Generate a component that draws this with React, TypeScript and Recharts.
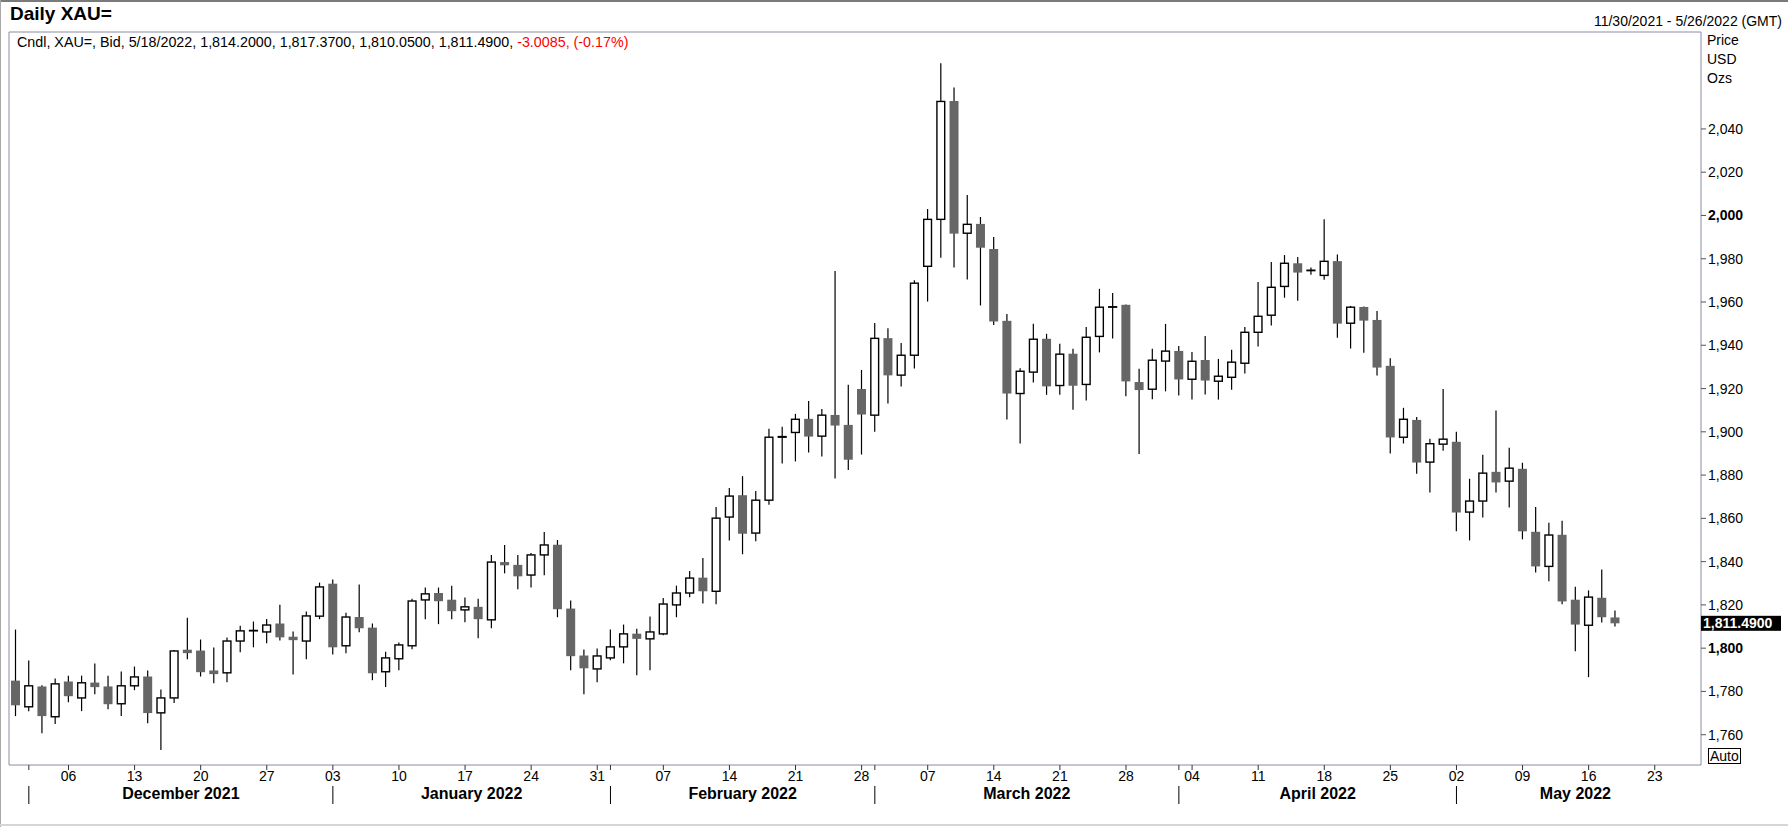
import { ComposedChart, Bar, XAxis, YAxis, ReferenceArea, ReferenceLine } from 'recharts';

// daily XAU= bid candles, 11/30/2021 - 5/18/2022
const dates = [
  '2021-11-30',
  '2021-12-01', '2021-12-02', '2021-12-03', '2021-12-06', '2021-12-07', '2021-12-08', '2021-12-09', '2021-12-10',
  '2021-12-13', '2021-12-14', '2021-12-15', '2021-12-16', '2021-12-17', '2021-12-20', '2021-12-21', '2021-12-22',
  '2021-12-23', '2021-12-24', '2021-12-27', '2021-12-28', '2021-12-29', '2021-12-30', '2021-12-31',
  '2022-01-03', '2022-01-04', '2022-01-05', '2022-01-06', '2022-01-07', '2022-01-10', '2022-01-11', '2022-01-12',
  '2022-01-13', '2022-01-14', '2022-01-17', '2022-01-18', '2022-01-19', '2022-01-20', '2022-01-21', '2022-01-24',
  '2022-01-25', '2022-01-26', '2022-01-27', '2022-01-28', '2022-01-31',
  '2022-02-01', '2022-02-02', '2022-02-03', '2022-02-04', '2022-02-07', '2022-02-08', '2022-02-09', '2022-02-10',
  '2022-02-11', '2022-02-14', '2022-02-15', '2022-02-16', '2022-02-17', '2022-02-18', '2022-02-21', '2022-02-22',
  '2022-02-23', '2022-02-24', '2022-02-25', '2022-02-28',
  '2022-03-01', '2022-03-02', '2022-03-03', '2022-03-04', '2022-03-07', '2022-03-08', '2022-03-09', '2022-03-10',
  '2022-03-11', '2022-03-14', '2022-03-15', '2022-03-16', '2022-03-17', '2022-03-18', '2022-03-21', '2022-03-22',
  '2022-03-23', '2022-03-24', '2022-03-25', '2022-03-28', '2022-03-29', '2022-03-30', '2022-03-31',
  '2022-04-01', '2022-04-04', '2022-04-05', '2022-04-06', '2022-04-07', '2022-04-08', '2022-04-11', '2022-04-12',
  '2022-04-13', '2022-04-14', '2022-04-15', '2022-04-18', '2022-04-19', '2022-04-20', '2022-04-21', '2022-04-22',
  '2022-04-25', '2022-04-26', '2022-04-27', '2022-04-28', '2022-04-29',
  '2022-05-02', '2022-05-03', '2022-05-04', '2022-05-05', '2022-05-06', '2022-05-09', '2022-05-10', '2022-05-11',
  '2022-05-12', '2022-05-13', '2022-05-16', '2022-05-17', '2022-05-18',
];

// empty slots up to the end of the date range
const futureDates = ['2022-05-19', '2022-05-20', '2022-05-23', '2022-05-24', '2022-05-25', '2022-05-26'];

const opens = [
  1785.0,
  1772.9, 1782.3, 1768.3, 1784.6, 1777.0, 1784.1, 1782.3, 1774.3, 1782.6, 1786.9, 1770.1, 1777.0, 1799.3, 1798.9, 1789.7, 1788.6,
  1803.3, 1808.0, 1807.5, 1811.4, 1805.3, 1803.3, 1814.8,
  1829.8, 1801.1, 1814.4, 1809.5, 1789.1, 1795.1, 1801.1, 1822.3, 1825.5, 1822.4, 1817.7, 1819.1, 1813.1, 1839.8, 1838.5, 1833.8,
  1843.1, 1847.8, 1818.3, 1796.6, 1790.4,
  1795.5, 1800.6, 1806.7, 1804.3, 1806.6, 1820.0, 1825.5, 1832.6, 1826.3, 1860.6, 1870.7, 1853.2, 1868.4, 1897.5, 1899.7, 1906.0,
  1898.0, 1907.8, 1903.2, 1919.8,
  1907.7, 1943.3, 1926.2, 1935.4, 1976.5, 1998.2, 2052.9, 1991.8, 1996.1, 1984.5, 1951.3, 1917.7, 1927.6, 1943.0, 1921.4, 1936.1,
  1921.9, 1944.1, 1957.6, 1958.7, 1923.0, 1919.7, 1932.7,
  1937.4, 1924.3, 1933.2, 1923.4, 1925.2, 1931.7, 1946.0, 1953.9, 1967.2, 1977.9, 1974.5, 1972.3, 1978.9, 1950.2, 1957.7, 1951.7,
  1930.5, 1897.5, 1905.5, 1886.0, 1894.3,
  1895.4, 1862.9, 1868.0, 1881.5, 1877.2, 1882.9, 1853.8, 1837.8, 1852.4, 1822.4, 1810.6, 1823.3, 1814.2,
];

const highs = [
  1808.6,
  1794.3, 1782.9, 1786.0, 1787.3, 1787.3, 1792.9, 1787.3, 1789.2, 1791.5, 1789.7, 1780.9, 1799.2, 1814.1, 1804.0, 1800.3, 1804.9,
  1810.4, 1812.3, 1813.5, 1820.1, 1807.7, 1816.9, 1830.3,
  1831.7, 1816.4, 1829.4, 1811.4, 1798.4, 1802.6, 1822.9, 1828.0, 1828.0, 1828.9, 1823.4, 1822.9, 1843.1, 1847.7, 1843.1, 1844.0,
  1853.7, 1850.0, 1822.0, 1799.4, 1799.8,
  1808.6, 1810.9, 1809.0, 1814.6, 1823.2, 1828.9, 1835.7, 1841.7, 1865.2, 1874.0, 1879.5, 1872.7, 1901.4, 1902.3, 1908.3, 1914.3,
  1910.6, 1974.3, 1921.7, 1928.6,
  1950.3, 1947.9, 1941.0, 1970.1, 2003.0, 2070.4, 2059.2, 2009.5, 1999.3, 1990.1, 1954.5, 1929.4, 1949.9, 1945.3, 1940.7, 1938.4,
  1948.5, 1966.1, 1964.2, 1958.9, 1929.1, 1938.4, 1949.9,
  1939.7, 1936.9, 1944.3, 1933.7, 1937.9, 1948.5, 1969.2, 1978.5, 1981.7, 1980.8, 1975.9, 1998.3, 1982.0, 1958.2, 1957.9, 1955.9,
  1934.0, 1911.1, 1906.9, 1896.8, 1919.8,
  1900.0, 1878.3, 1889.4, 1909.8, 1892.6, 1885.7, 1865.3, 1858.0, 1858.9, 1828.4, 1826.7, 1836.4, 1817.37,
];

const lows = [
  1768.6,
  1770.9, 1760.7, 1764.9, 1775.0, 1770.9, 1778.7, 1771.8, 1768.6, 1780.6, 1765.3, 1752.9, 1774.6, 1794.9, 1786.9, 1783.8, 1784.3,
  1798.1, 1800.4, 1802.3, 1803.5, 1787.8, 1794.9, 1813.4,
  1797.1, 1797.7, 1807.4, 1785.2, 1782.0, 1789.8, 1799.5, 1813.4, 1811.1, 1813.4, 1812.0, 1804.6, 1809.2, 1834.6, 1827.2, 1828.1,
  1833.7, 1814.3, 1789.8, 1778.7, 1784.3,
  1794.4, 1793.0, 1787.5, 1789.8, 1806.0, 1814.3, 1823.5, 1820.7, 1820.3, 1849.8, 1843.4, 1849.4, 1866.3, 1885.4, 1886.3, 1890.4,
  1888.6, 1878.4, 1882.4, 1889.5,
  1900.0, 1913.1, 1921.0, 1929.3, 1960.2, 1980.5, 1975.9, 1970.4, 1958.4, 1949.4, 1905.7, 1894.6, 1922.8, 1917.1, 1917.1, 1910.2,
  1914.5, 1936.7, 1943.1, 1916.4, 1889.7, 1915.1, 1918.7,
  1916.8, 1914.9, 1917.2, 1914.9, 1919.5, 1926.9, 1939.4, 1949.1, 1962.0, 1960.6, 1972.6, 1970.3, 1943.5, 1938.5, 1936.6, 1926.0,
  1890.0, 1894.6, 1880.6, 1872.0, 1891.2,
  1854.0, 1849.8, 1860.4, 1872.0, 1865.0, 1850.3, 1835.0, 1830.9, 1820.3, 1798.6, 1786.6, 1811.9, 1810.05,
];

const closes = [
  1773.6,
  1782.6, 1768.6, 1783.5, 1777.8, 1784.0, 1782.0, 1774.1, 1782.6, 1786.7, 1770.0, 1777.0, 1798.7, 1797.7, 1788.9, 1788.0, 1803.3,
  1808.0, 1808.2, 1810.7, 1805.0, 1803.7, 1814.9, 1828.3,
  1800.4, 1814.4, 1809.2, 1788.4, 1795.5, 1801.5, 1821.8, 1825.1, 1821.7, 1817.1, 1819.1, 1813.4, 1839.8, 1838.3, 1833.2, 1843.1,
  1847.7, 1818.0, 1796.3, 1790.7, 1796.4,
  1800.6, 1806.6, 1804.3, 1807.5, 1820.4, 1825.5, 1832.4, 1826.3, 1860.1, 1870.3, 1852.9, 1868.4, 1897.5, 1897.8, 1905.8, 1897.8,
  1907.7, 1902.9, 1887.1, 1908.0,
  1943.2, 1926.1, 1935.4, 1968.7, 1998.2, 2052.7, 1991.6, 1995.9, 1985.1, 1951.0, 1917.7, 1928.0, 1942.8, 1921.0, 1935.9, 1921.3,
  1943.7, 1957.6, 1957.8, 1923.3, 1919.3, 1933.1, 1937.3,
  1924.2, 1932.6, 1923.7, 1925.7, 1932.2, 1946.0, 1953.4, 1966.8, 1977.9, 1973.6, 1974.7, 1978.8, 1950.0, 1957.6, 1951.4, 1929.7,
  1897.4, 1905.8, 1885.8, 1894.5, 1896.6,
  1862.7, 1868.0, 1880.9, 1876.6, 1883.2, 1854.0, 1837.8, 1852.3, 1821.6, 1810.9, 1823.6, 1814.3, 1811.49,
];

const priceTicks = [1760, 1780, 1800, 1820, 1840, 1860, 1880, 1900, 1920, 1940, 1960, 1980, 2000, 2020, 2040];
const boldPriceTicks = [1800, 2000];
const monthLabels = ['December 2021', 'January 2022', 'February 2022', 'March 2022', 'April 2022', 'May 2022'];
const changeText = '-3.0085, (-0.17%)';
const priceDomain = [1746, 2084.8];

const FONT = '"Liberation Sans", Arial, sans-serif';

const allDates = [...dates, ...futureDates];
const lastIdx = allDates.length - 1;

const candles = dates.map((d, i) => ({
  i,
  date: d,
  open: opens[i],
  high: highs[i],
  low: lows[i],
  close: closes[i],
  range: [lows[i], highs[i]],
}));

const mondays = allDates
  .map((d, i) => ({ d, i }))
  .filter(({ d }) => new Date(d + 'T00:00:00Z').getUTCDay() === 1)
  .map(({ i }) => i);
const monthStarts = allDates
  .map((_, i) => i)
  .filter((i) => i > 0 && allDates[i].slice(5, 7) !== allDates[i - 1].slice(5, 7));
const monthMids = monthStarts.map((s, k) => (s + (monthStarts[k + 1] ?? lastIdx)) / 2);
const dateTicks = Array.from(new Set([...mondays, ...monthStarts, ...monthMids])).sort((a, b) => a - b);

const fmt = (v: number, digits: number) => {
  const [a, b] = v.toFixed(digits).split('.');
  const s = a.replace(/\B(?=(\d{3})+(?!\d))/g, ',');
  return b ? `${s}.${b}` : s;
};

const last = candles[candles.length - 1];
const lastDate = new Date(last.date + 'T00:00:00Z');
const infoText = `Cndl, XAU=, Bid, ${lastDate.getUTCMonth() + 1}/${lastDate.getUTCDate()}/${lastDate.getUTCFullYear()}, ${fmt(last.open, 4)}, ${fmt(last.high, 4)}, ${fmt(last.low, 4)}, ${fmt(last.close, 4)}, `;

function Candle(props: any) {
  const { x, y, width, height, payload } = props;
  if (!payload) return null;
  const { open, close, high, low } = payload;
  const top = Math.min(y, y + height);
  const bottom = Math.max(y, y + height);
  const k = (bottom - top) / (high - low);
  const yOf = (v: number) => top + (high - v) * k;
  const cx = x + width / 2;
  const up = close >= open;
  const bTop = yOf(Math.max(open, close));
  const bBot = yOf(Math.min(open, close));
  return (
    <g>
      <line x1={cx} x2={cx} y1={top} y2={bottom} stroke="#000" strokeWidth={1.2} />
      {up ? (
        <rect x={x + 0.6} y={bTop} width={width - 1.2} height={Math.max(bBot - bTop, 0.4)} fill="#fff" stroke="#000" strokeWidth={1.4} />
      ) : (
        <rect x={x} y={bTop} width={width} height={Math.max(bBot - bTop, 1.5)} fill="#666" />
      )}
    </g>
  );
}

function DateTick(props: any) {
  const { x, y, payload } = props;
  const v = payload.value;
  const isMonday = mondays.includes(v);
  const isStart = monthStarts.includes(v);
  const mid = monthMids.indexOf(v);
  return (
    <g>
      {(isMonday || isStart) && <line x1={x} x2={x} y1={y} y2={y + 5} stroke="#333" />}
      {isMonday && (
        <text x={x} y={y + 16} textAnchor="middle" fontSize={14} fontFamily={FONT} fill="#000">
          {allDates[v].slice(8)}
        </text>
      )}
      {isStart && <line x1={x} x2={x} y1={y + 21} y2={y + 39} stroke="#000" />}
      {mid >= 0 && (
        <text x={x} y={y + 34} textAnchor="middle" fontSize={16} fontWeight="bold" fontFamily={FONT} fill="#000">
          {monthLabels[mid]}
        </text>
      )}
    </g>
  );
}

function PriceTick(props: any) {
  const { x, y, payload } = props;
  const bold = boldPriceTicks.includes(payload.value);
  return (
    <text x={x} y={y} dy={5} textAnchor="start" fontSize={14} fontWeight={bold ? 'bold' : 'normal'} fontFamily={FONT} fill="#000">
      {fmt(payload.value, 0)}
    </text>
  );
}

function PriceTag(props: any) {
  const vb = props.viewBox;
  if (!vb) return null;
  const x = vb.x + vb.width;
  return (
    <g>
      <rect x={x} y={vb.y - 7.5} width={80} height={15} fill="#000" />
      <text x={x + 2} y={vb.y + 5} fontSize={14} fontWeight="bold" fontFamily={FONT} fill="#fff">
        {fmt(last.close, 4)}
      </text>
    </g>
  );
}

export default function App() {
  return (
    <div style={{ position: 'absolute', left: 0, top: 0, width: 1788, height: 827, background: '#fff', fontFamily: FONT, color: '#000' }}>
      <div style={{ position: 'absolute', left: 0, top: 0, width: 1788, height: 2, background: '#7a7a7a' }} />
      <div style={{ position: 'absolute', left: 0, top: 0, width: 1, height: 827, background: '#a8a8a8' }} />
      <div style={{ position: 'absolute', left: 0, top: 824, width: 1788, height: 2, background: '#d6d6d6' }} />

      <div style={{ position: 'absolute', left: 10, top: 3, fontSize: 19, lineHeight: '22px', fontWeight: 'bold', whiteSpace: 'nowrap' }}>
        Daily XAU=
      </div>
      <div style={{ position: 'absolute', right: 6, top: 13, fontSize: 14, lineHeight: '16px', whiteSpace: 'nowrap' }}>
        11/30/2021 - 5/26/2022 (GMT)
      </div>

      <div style={{ position: 'absolute', left: 0, top: 0 }}>
        <ComposedChart width={1788} height={827} data={candles} margin={{ top: 32, right: 0, bottom: 12, left: 9 }}>
          <XAxis
            dataKey="i"
            type="number"
            domain={[-0.5, lastIdx + 0.5]}
            ticks={dateTicks}
            interval={0}
            height={50}
            axisLine={false}
            tickLine={false}
            tickSize={0}
            tickMargin={0}
            tick={<DateTick />}
          />
          <YAxis
            orientation="right"
            type="number"
            domain={priceDomain}
            ticks={priceTicks}
            interval={0}
            width={87}
            axisLine={false}
            tickLine={{ stroke: '#555' }}
            tickSize={5}
            tick={<PriceTick />}
          />
          <ReferenceArea
            x1={-0.5}
            x2={lastIdx + 0.5}
            y1={priceDomain[0]}
            y2={priceDomain[1]}
            fill="none"
            stroke="#8c8ca0"
            strokeWidth={1}
            ifOverflow="visible"
          />
          <Bar dataKey="range" barSize={9} shape={Candle} isAnimationActive={false} />
          <ReferenceLine y={last.close} stroke="none" ifOverflow="visible" label={PriceTag} />
        </ComposedChart>
      </div>

      <div style={{ position: 'absolute', left: 17, top: 34, fontSize: 14.3, lineHeight: '16px', whiteSpace: 'nowrap' }}>
        {infoText}
        <span style={{ color: '#f00' }}>{changeText}</span>
      </div>

      <div style={{ position: 'absolute', left: 1707, top: 32, fontSize: 14, lineHeight: '16px' }}>Price</div>
      <div style={{ position: 'absolute', left: 1707, top: 51, fontSize: 14, lineHeight: '16px' }}>USD</div>
      <div style={{ position: 'absolute', left: 1707, top: 70, fontSize: 14, lineHeight: '16px' }}>Ozs</div>

      <div
        style={{
          position: 'absolute',
          left: 1708,
          top: 748,
          height: 14,
          border: '1px solid #000',
          fontSize: 14,
          lineHeight: '14px',
          padding: '0 1px',
        }}
      >
        Auto
      </div>
    </div>
  );
}
